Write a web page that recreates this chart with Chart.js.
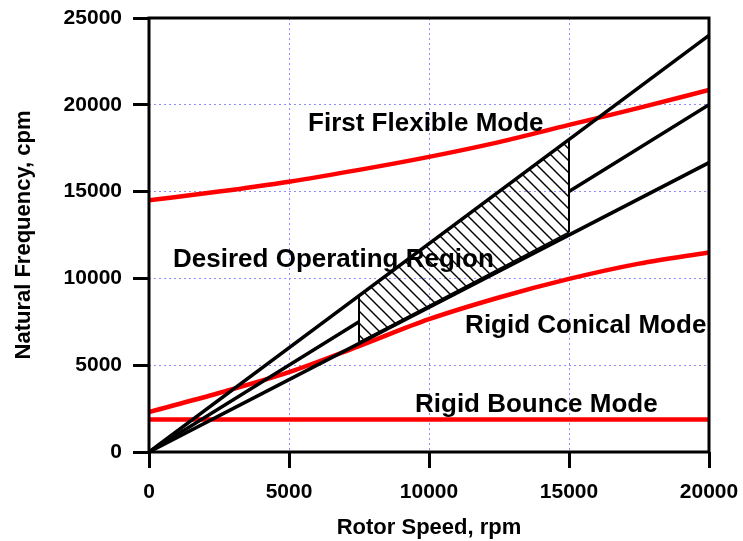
<!DOCTYPE html>
<html>
<head>
<meta charset="utf-8">
<script src="https://cdn.jsdelivr.net/npm/chart.js@4.4.1/dist/chart.umd.min.js"></script>
<style>
  body { margin: 0; background: #fff; }
</style>
</head>
<body>
<canvas id="modeChart" width="743" height="541"></canvas>
<script>
const rotorSpeed = [0, 2500, 5000, 7500, 10000, 12500, 15000, 17500, 20000];
const firstFlexible = [14500, 15000, 15570, 16250, 17000, 17850, 18840, 19820, 20850];
const rigidConical = [2300, 3400, 4600, 6100, 7650, 8900, 9970, 10850, 11500];
const rigidBounce = [1870, 1870, 1870, 1870, 1870, 1870, 1870, 1870, 1870];

// excitation lines from the origin (1.2x, 1.0x, 0.833x running speed)
const lineSpeed = [0, 20000];
const upperLine = [0, 24000];
const lowerLine = [0, 16667];
const midSpeed = [0, 7500, 10000, 15000, 20000];
const midLine = [0, 7500, null, 15000, 20000];

// desired operating region (hatched)
const regionSpeed = [7500, 15000];
const regionTop = [9000, 18000];
const regionBottom = [6330, 12660];

const xTicks = [0, 5000, 10000, 15000, 20000];
const yTicks = [0, 5000, 10000, 15000, 20000, 25000];

const labelText = ['First Flexible Mode', 'Desired Operating Region', 'Rigid Conical Mode', 'Rigid Bounce Mode'];
const labelX = [5680, 860, 11290, 9500];
const labelY = [18490, 10660, 6855, 2300];

const FONT = '"Liberation Sans", Arial, Helvetica, sans-serif';

function pts(xs, ys) {
    return xs.map((x, i) => ({ x: x, y: ys[i] }));
}

function hatch() {
    const n = 12;
    const c = document.createElement('canvas');
    c.width = n;
    c.height = n;
    const g = c.getContext('2d');
    g.strokeStyle = '#000';
    g.lineWidth = 1.4;
    g.beginPath();
    g.moveTo(-1, -1); g.lineTo(n + 1, n + 1);
    g.moveTo(-1, n - 1); g.lineTo(1, n + 1);
    g.moveTo(n - 1, -1); g.lineTo(n + 1, 1);
    g.stroke();
    return g.createPattern(c, 'repeat');
}

const blackLine = { borderColor: '#000', borderWidth: 3.5, pointRadius: 0, fill: false, tension: 0 };
const redLine = { borderColor: '#ff0000', borderWidth: 4.5, pointRadius: 0, fill: false, cubicInterpolationMode: 'monotone' };

const labelsPlugin = {
    id: 'modeLabels',
    afterDatasetsDraw(chart) {
        const ctx = chart.ctx;
        const xs = chart.scales.x, ys = chart.scales.y;
        ctx.save();
        ctx.font = 'bold 26px ' + FONT;
        ctx.fillStyle = '#000';
        ctx.textAlign = 'left';
        ctx.textBaseline = 'alphabetic';
        labelText.forEach((t, i) => {
            ctx.fillText(t, xs.getPixelForValue(labelX[i]), ys.getPixelForValue(labelY[i]));
        });
        ctx.restore();
    }
};

const framePlugin = {
    id: 'frame',
    afterDraw(chart) {
        const a = chart.chartArea;
        const ctx = chart.ctx;
        ctx.save();
        ctx.strokeStyle = '#000';
        ctx.lineWidth = 3;
        ctx.strokeRect(a.left, a.top, a.right - a.left, a.bottom - a.top);
        ctx.restore();
    }
};

new Chart(document.getElementById('modeChart'), {
    type: 'line',
    data: {
        datasets: [
            Object.assign({ data: pts(lineSpeed, upperLine) }, blackLine),
            Object.assign({ data: pts(lineSpeed, lowerLine) }, blackLine),
            Object.assign({ data: pts(midSpeed, midLine), spanGaps: false }, blackLine),
            { data: pts([regionSpeed[0], regionSpeed[0]], [regionBottom[0], regionTop[0]]), borderColor: '#000', borderWidth: 2, pointRadius: 0, fill: false },
            { data: pts([regionSpeed[1], regionSpeed[1]], [regionBottom[1], regionTop[1]]), borderColor: '#000', borderWidth: 2, pointRadius: 0, fill: false },
            { data: pts(regionSpeed, regionTop), borderColor: '#000', borderWidth: 2, pointRadius: 0, fill: '+1', backgroundColor: hatch() },
            { data: pts(regionSpeed, regionBottom), borderColor: '#000', borderWidth: 1.5, pointRadius: 0, fill: false },
            Object.assign({ data: pts(rotorSpeed, firstFlexible) }, redLine),
            Object.assign({ data: pts(rotorSpeed, rigidConical) }, redLine),
            Object.assign({ data: pts(rotorSpeed, rigidBounce) }, redLine)
        ]
    },
    options: {
        responsive: false,
        animation: false,
        layout: { padding: { left: 0, right: 34, top: 18, bottom: 0 } },
        plugins: {
            legend: { display: false },
            tooltip: { enabled: false }
        },
        scales: {
            x: {
                type: 'linear',
                min: 0,
                max: 20000,
                afterFit: s => { s.height = 89; s.paddingLeft = 0; s.paddingRight = 0; },
                afterBuildTicks: s => { s.ticks = xTicks.map(v => ({ value: v })); },
                ticks: {
                    color: '#000',
                    padding: 12,
                    maxRotation: 0,
                    font: { family: FONT, size: 21, weight: 'bold' },
                    callback: v => String(v)
                },
                grid: { color: '#8c8cff', lineWidth: 1, tickColor: '#000', tickWidth: 3, tickLength: 16, tickBorderDash: [] },
                border: { display: false, dash: [2, 3] },
                title: {
                    display: true,
                    text: 'Rotor Speed, rpm',
                    color: '#000',
                    padding: { top: 0, bottom: 0 },
                    font: { family: FONT, size: 22, weight: 'bold' }
                }
            },
            y: {
                min: 0,
                max: 25000,
                afterFit: s => { s.width = 149; s.paddingTop = 0; s.paddingBottom = 0; },
                afterBuildTicks: s => { s.ticks = yTicks.map(v => ({ value: v })); },
                ticks: {
                    color: '#000',
                    padding: 11,
                    font: { family: FONT, size: 21, weight: 'bold' },
                    callback: v => String(v)
                },
                grid: { color: '#8c8cff', lineWidth: 1, tickColor: '#000', tickWidth: 3, tickLength: 16, tickBorderDash: [] },
                border: { display: false, dash: [2, 3] },
                title: {
                    display: true,
                    text: 'Natural Frequency, cpm',
                    color: '#000',
                    padding: { top: 11, bottom: 0 },
                    font: { family: FONT, size: 22, weight: 'bold' }
                }
            }
        }
    },
    plugins: [labelsPlugin, framePlugin]
});
</script>
</body>
</html>
